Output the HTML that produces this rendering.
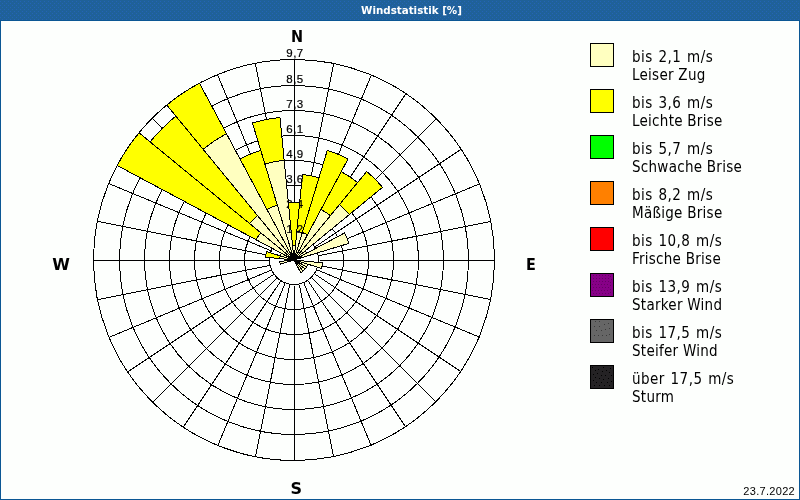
<!DOCTYPE html>
<html lang="de"><head><meta charset="utf-8"><title>Windstatistik</title>
<style>
html,body{margin:0;padding:0;background:#fff;}
body{width:800px;height:500px;position:relative;overflow:hidden;font-family:"DejaVu Sans","Liberation Sans",sans-serif;color:#000;}
#hdr{position:absolute;left:0;top:0;width:800px;height:20px;background:#1f6199;}
#frame{position:absolute;left:0;top:20px;width:798px;height:478px;border:1px solid #0b5794;background:#fdfffd;}
#title{position:absolute;left:361px;top:0px;width:101px;height:20px;line-height:20px;text-align:center;color:#fff;font-weight:bold;font-size:10.3px;white-space:nowrap;font-family:"DejaVu Sans","Liberation Sans",sans-serif;}
svg{position:absolute;left:0;top:0;}
.rl text{font-size:11.5px;letter-spacing:0.5px;text-anchor:middle;fill:#000;stroke:#000;stroke-width:0.2px;font-family:"Liberation Sans",sans-serif;}
.dir{position:absolute;font-weight:bold;font-size:16px;line-height:16px;font-family:"DejaVu Sans Condensed","Liberation Sans",sans-serif;}
.sw{position:absolute;left:590px;width:22px;height:22px;border:1px solid #000;}
.lt{position:absolute;left:632px;font-size:15px;line-height:18px;letter-spacing:0.27px;white-space:nowrap;font-family:"DejaVu Sans Condensed","Liberation Sans",sans-serif;}
.ws{word-spacing:1px;letter-spacing:0.46px;}
#date{position:absolute;right:5px;top:485px;letter-spacing:0.3px;font-size:11px;line-height:13px;font-family:"Liberation Sans",sans-serif;}
</style></head><body>
<div id="hdr"></div><div id="frame"></div>
<svg width="800" height="500" viewBox="0 0 800 500" shape-rendering="crispEdges">
<defs><pattern id="hd" width="4" height="4" patternUnits="userSpaceOnUse"><rect x="0" y="1" width="1" height="1" fill="#2464b6"/><rect x="2" y="3" width="1" height="1" fill="#2464b6"/></pattern></defs>
<rect x="0" y="0" width="800" height="20" fill="url(#hd)"/>
<g fill="none" stroke="#000" stroke-width="1">
<circle cx="294" cy="260" r="24.50"/>
<circle cx="294" cy="260" r="49.50"/>
<circle cx="294" cy="260" r="74.50"/>
<circle cx="294" cy="260" r="99.50"/>
<circle cx="294" cy="260" r="124.50"/>
<circle cx="294" cy="260" r="149.50"/>
<circle cx="294" cy="260" r="174.50"/>
<circle cx="294" cy="260" r="200.50"/>
<line x1="294.50" y1="235.44" x2="294.50" y2="60.00"/>
<line x1="299.39" y1="235.92" x2="333.62" y2="63.85"/>
<line x1="304.09" y1="237.35" x2="371.23" y2="75.26"/>
<line x1="308.42" y1="239.66" x2="405.89" y2="93.79"/>
<line x1="312.22" y1="242.78" x2="436.27" y2="118.73"/>
<line x1="315.34" y1="246.58" x2="461.21" y2="149.11"/>
<line x1="317.65" y1="250.91" x2="479.74" y2="183.77"/>
<line x1="319.08" y1="255.61" x2="491.15" y2="221.38"/>
<line x1="319.56" y1="260.50" x2="495.00" y2="260.50"/>
<line x1="319.08" y1="265.39" x2="491.15" y2="299.62"/>
<line x1="317.65" y1="270.09" x2="479.74" y2="337.23"/>
<line x1="315.34" y1="274.42" x2="461.21" y2="371.89"/>
<line x1="312.22" y1="278.22" x2="436.27" y2="402.27"/>
<line x1="308.42" y1="281.34" x2="405.89" y2="427.21"/>
<line x1="304.09" y1="283.65" x2="371.23" y2="445.74"/>
<line x1="299.39" y1="285.08" x2="333.62" y2="457.15"/>
<line x1="294.50" y1="285.56" x2="294.50" y2="461.00"/>
<line x1="289.61" y1="285.08" x2="255.38" y2="457.15"/>
<line x1="284.91" y1="283.65" x2="217.77" y2="445.74"/>
<line x1="280.58" y1="281.34" x2="183.11" y2="427.21"/>
<line x1="276.78" y1="278.22" x2="152.73" y2="402.27"/>
<line x1="273.66" y1="274.42" x2="127.79" y2="371.89"/>
<line x1="271.35" y1="270.09" x2="109.26" y2="337.23"/>
<line x1="269.92" y1="265.39" x2="97.85" y2="299.62"/>
<line x1="269.44" y1="260.50" x2="94.00" y2="260.50"/>
<line x1="269.92" y1="255.61" x2="97.85" y2="221.38"/>
<line x1="271.35" y1="250.91" x2="109.26" y2="183.77"/>
<line x1="273.66" y1="246.58" x2="127.79" y2="149.11"/>
<line x1="276.78" y1="242.78" x2="152.73" y2="118.73"/>
<line x1="280.58" y1="239.66" x2="183.11" y2="93.79"/>
<line x1="284.91" y1="237.35" x2="217.77" y2="75.26"/>
<line x1="289.61" y1="235.92" x2="255.38" y2="63.85"/>
</g>
<g stroke="#000" stroke-width="1" stroke-linejoin="miter">
<path d="M294.00 260.00L302.42 174.49A85.93 85.93 0 0 1 318.94 177.77Z" fill="#ffff00"/><path d="M294.00 260.00L296.81 231.50A28.64 28.64 0 0 1 302.31 232.59Z" fill="#ffffc0"/>
<path d="M294.00 260.00L327.26 150.36A114.57 114.57 0 0 1 348.01 158.96Z" fill="#ffff00"/><path d="M294.00 260.00L302.31 232.59A28.64 28.64 0 0 1 307.50 234.74Z" fill="#ffffc0"/>
<path d="M294.00 260.00L341.26 171.59A100.25 100.25 0 0 1 357.60 182.51Z" fill="#ffff00"/><path d="M294.00 260.00L321.00 209.48A57.29 57.29 0 0 1 330.34 215.72Z" fill="#ffffc0"/>
<path d="M294.00 260.00L366.68 171.44A114.57 114.57 0 0 1 382.56 187.32Z" fill="#ffff00"/><path d="M294.00 260.00L339.43 204.65A71.61 71.61 0 0 1 349.35 214.57Z" fill="#ffffc0"/>
<path d="M294.00 260.00L305.07 250.91A14.32 14.32 0 0 1 306.63 253.25Z" fill="#ffffc0"/>
<path d="M294.00 260.00L344.52 233.00A57.29 57.29 0 0 1 348.82 243.37Z" fill="#ffffc0"/>


<path d="M294.00 260.00L322.50 262.81A28.64 28.64 0 0 1 321.41 268.31Z" fill="#ffffc0"/>
<path d="M294.00 260.00L307.70 264.16A14.32 14.32 0 0 1 306.63 266.75Z" fill="#ffffc0"/>
<path d="M294.00 260.00L306.63 266.75A14.32 14.32 0 0 1 305.07 269.09Z" fill="#ffffc0"/>
<path d="M294.00 260.00L305.07 269.09A14.32 14.32 0 0 1 303.09 271.07Z" fill="#ffffc0"/>
<path d="M294.00 260.00L303.09 271.07A14.32 14.32 0 0 1 300.75 272.63Z" fill="#ffffc0"/>
<path d="M294.00 260.00L280.30 264.16A14.32 14.32 0 0 1 279.75 261.40Z" fill="#ffffc0"/>
<path d="M294.00 260.00L265.50 257.19A28.64 28.64 0 0 1 266.59 251.69Z" fill="#ffff00"/><path d="M294.00 260.00L279.75 258.60A14.32 14.32 0 0 1 280.30 255.84Z" fill="#ffffc0"/>
<path d="M294.00 260.00L280.30 255.84A14.32 14.32 0 0 1 281.37 253.25Z" fill="#ffffc0"/>
<path d="M294.00 260.00L117.17 165.48A200.50 200.50 0 0 1 139.01 132.80Z" fill="#ffff00"/><path d="M294.00 260.00L256.11 239.75A42.96 42.96 0 0 1 260.79 232.74Z" fill="#ffffc0"/>
<path d="M294.00 260.00L150.08 141.89A186.18 186.18 0 0 1 175.89 116.08Z" fill="#ffff00"/><path d="M294.00 260.00L249.72 223.66A57.29 57.29 0 0 1 257.66 215.72Z" fill="#ffffc0"/>
<path d="M294.00 260.00L166.80 105.01A200.50 200.50 0 0 1 199.48 83.17Z" fill="#ffff00"/><path d="M294.00 260.00L203.15 149.29A143.21 143.21 0 0 1 226.49 133.70Z" fill="#ffffc0"/>
<path d="M294.00 260.00L239.99 158.96A114.57 114.57 0 0 1 260.74 150.36Z" fill="#ffff00"/><path d="M294.00 260.00L267.00 209.48A57.29 57.29 0 0 1 277.37 205.18Z" fill="#ffffc0"/>
<path d="M294.00 260.00L252.43 122.95A143.21 143.21 0 0 1 279.96 117.48Z" fill="#ffff00"/><path d="M294.00 260.00L264.90 164.07A100.25 100.25 0 0 1 284.17 160.23Z" fill="#ffffc0"/>
</g>
<g class="rl">
<text x="295" y="233.0">1,2</text>
<text x="295" y="208.0">2,4</text>
<text x="295" y="183.0">3,6</text>
<text x="295" y="158.0">4,9</text>
<text x="295" y="133.0">6,1</text>
<text x="295" y="108.0">7,3</text>
<text x="295" y="83.0">8,5</text>
<text x="295" y="57.0">9,7</text>
</g>
<g stroke="#000" stroke-width="1"><path d="M294.00 260.00L288.39 202.99A57.29 57.29 0 0 1 299.61 202.99Z" fill="#ffff00"/><path d="M294.00 260.00L292.60 245.75A14.32 14.32 0 0 1 295.40 245.75Z" fill="#ffffc0"/></g>
<g stroke="#000" stroke-width="1">
<rect x="590.5" y="43.5" width="23" height="23" fill="#ffffc0"/>
<rect x="590.5" y="89.5" width="23" height="23" fill="#ffff00"/>
<rect x="590.5" y="135.5" width="23" height="23" fill="#00ff00"/>
<rect x="590.5" y="181.5" width="23" height="23" fill="#ff8000"/>
<rect x="590.5" y="227.5" width="23" height="23" fill="#ff0000"/>
<rect x="590.5" y="273.5" width="23" height="23" fill="#870087"/>
<rect x="590.5" y="319.5" width="23" height="23" fill="#666666"/>
<rect x="590.5" y="365.5" width="23" height="23" fill="#242224"/>
</g>
<path fill="#660066" d="M593 275h1v1h-1zM596 275h1v1h-1zM599 275h1v1h-1zM602 275h1v1h-1zM605 275h1v1h-1zM608 275h1v1h-1zM593 278h1v1h-1zM596 278h1v1h-1zM599 278h1v1h-1zM602 278h1v1h-1zM605 278h1v1h-1zM608 278h1v1h-1zM593 281h1v1h-1zM596 281h1v1h-1zM599 281h1v1h-1zM602 281h1v1h-1zM605 281h1v1h-1zM608 281h1v1h-1zM592 284h1v1h-1zM595 284h1v1h-1zM598 284h1v1h-1zM601 284h1v1h-1zM604 284h1v1h-1zM607 284h1v1h-1zM593 287h1v1h-1zM596 287h1v1h-1zM599 287h1v1h-1zM602 287h1v1h-1zM605 287h1v1h-1zM608 287h1v1h-1zM592 290h1v1h-1zM595 290h1v1h-1zM598 290h1v1h-1zM601 290h1v1h-1zM604 290h1v1h-1zM607 290h1v1h-1zM593 293h1v1h-1zM596 293h1v1h-1zM599 293h1v1h-1zM602 293h1v1h-1zM605 293h1v1h-1zM608 293h1v1h-1zM610 276h1v1h-1zM611 279h1v1h-1zM610 282h1v1h-1zM610 285h1v1h-1zM610 289h1v1h-1zM610 292h1v1h-1z"/>
<path fill="#3a3a3a" d="M595 321h1v1h-1zM599 321h1v1h-1zM604 324h1v1h-1zM608 323h1v1h-1zM594 326h1v1h-1zM599 326h1v1h-1zM596 330h1v1h-1zM601 330h1v1h-1zM605 329h1v1h-1zM609 328h1v1h-1zM594 335h1v1h-1zM598 335h1v1h-1zM602 335h1v1h-1zM606 335h1v1h-1zM609 334h1v1h-1z"/>
<path fill="#000" d="M592 367h1v1h-1zM603 367h1v1h-1zM610 368h1v1h-1zM595 370h1v1h-1zM598 369h1v1h-1zM602 371h1v1h-1zM606 370h1v1h-1zM609 372h1v1h-1zM593 374h1v1h-1zM597 373h1v1h-1zM601 375h1v1h-1zM605 375h1v1h-1zM611 375h1v1h-1zM595 377h1v1h-1zM599 378h1v1h-1zM603 379h1v1h-1zM608 378h1v1h-1zM593 380h1v1h-1zM596 382h1v1h-1zM601 382h1v1h-1zM607 382h1v1h-1zM611 381h1v1h-1zM594 385h1v1h-1zM599 385h1v1h-1zM604 385h1v1h-1zM609 385h1v1h-1z"/>
</svg>
<div id="title">Windstatistik [%]</div>
<div class="dir" id="dn" style="left:291px;top:29px">N</div>
<div class="dir" id="dw" style="left:52.3px;top:257px;font-family:'DejaVu Sans','Liberation Sans',sans-serif">W</div>
<div class="dir" id="de" style="left:526px;top:257px">E</div>
<div class="dir" id="ds" style="left:290.5px;top:481px;font-family:'DejaVu Sans','Liberation Sans',sans-serif">S</div>
<div class="lt" style="top:48px"><span class="ws">bis 2,1 m/s</span><br>Leiser Zug</div>
<div class="lt" style="top:94px"><span class="ws">bis 3,6 m/s</span><br>Leichte Brise</div>
<div class="lt" style="top:140px"><span class="ws">bis 5,7 m/s</span><br>Schwache Brise</div>
<div class="lt" style="top:186px"><span class="ws">bis 8,2 m/s</span><br>Mäßige Brise</div>
<div class="lt" style="top:232px"><span class="ws">bis 10,8 m/s</span><br>Frische Brise</div>
<div class="lt" style="top:278px"><span class="ws">bis 13,9 m/s</span><br>Starker Wind</div>
<div class="lt" style="top:324px"><span class="ws">bis 17,5 m/s</span><br>Steifer Wind</div>
<div class="lt" style="top:370px"><span class="ws">über 17,5 m/s</span><br>Sturm</div>
<div id="date">23.7.2022</div>
</body></html>
